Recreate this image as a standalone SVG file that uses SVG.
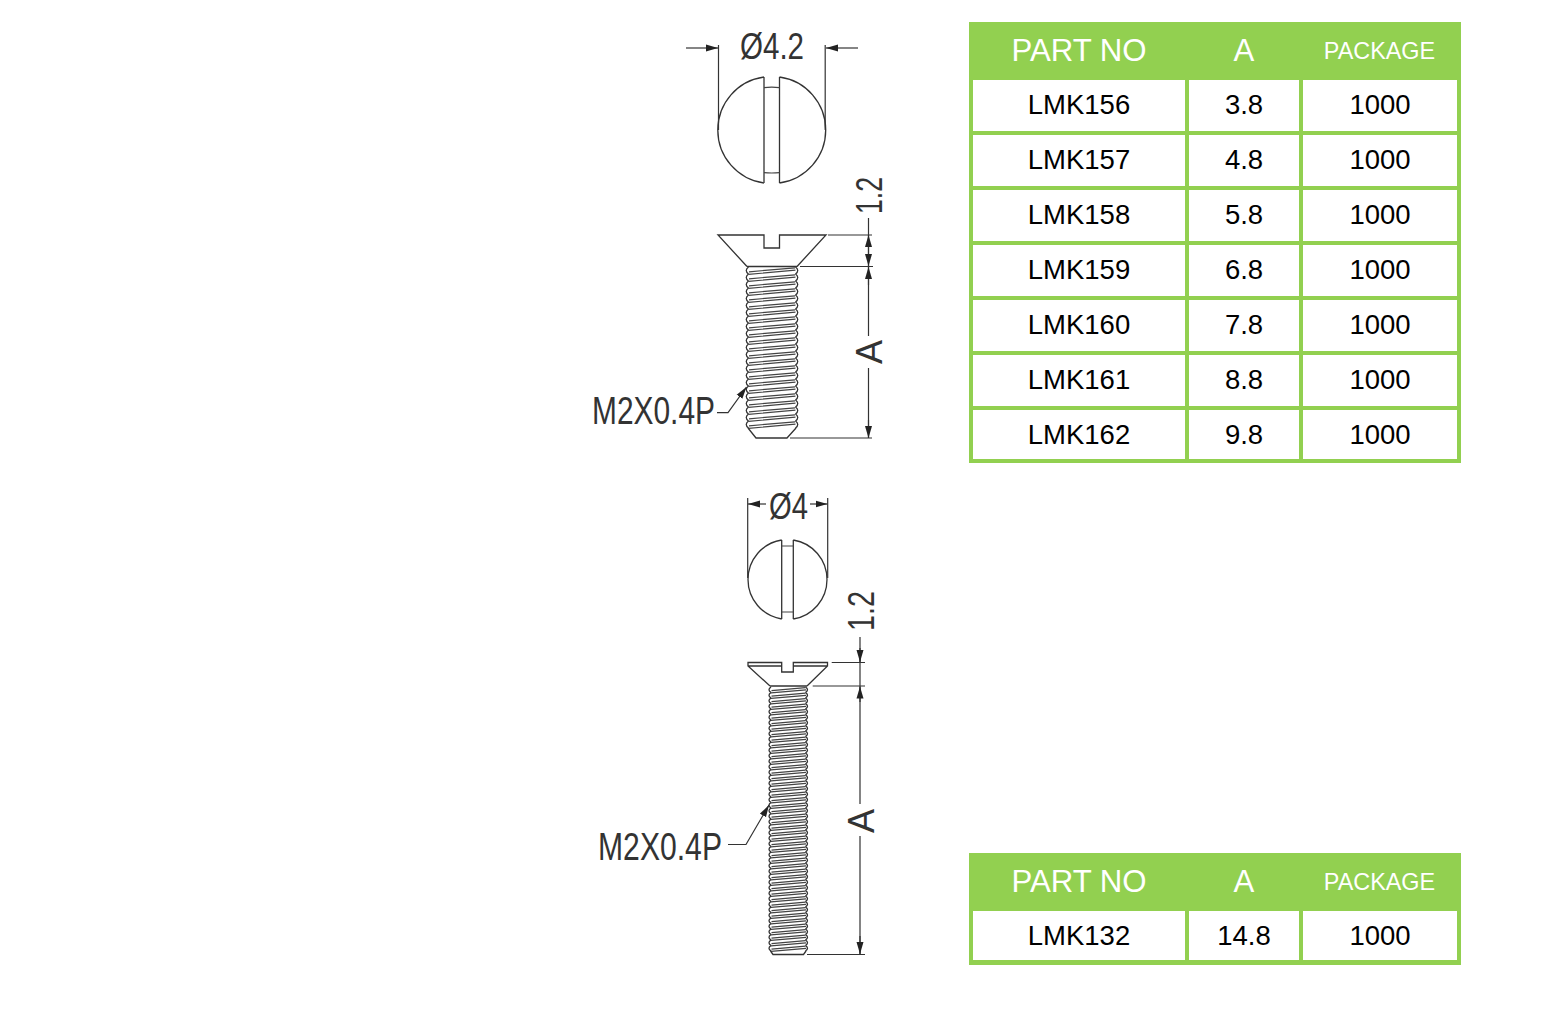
<svg xmlns="http://www.w3.org/2000/svg" width="1565" height="1017" viewBox="0 0 1565 1017">
<style>
.ln{fill:none;stroke:#333;stroke-width:1.3}
.th{fill:none;stroke:#444;stroke-width:1.2}
.dim{fill:none;stroke:#333;stroke-width:1.2}
.ar{marker-end:url(#arrow)}
.lab{font-family:"Liberation Sans",Arial,sans-serif;fill:#333}
.cell{fill:#fff}
.green{fill:#92d050}
.h1{font-family:"Liberation Sans",Arial,sans-serif;font-size:31.2px;fill:#fff;text-anchor:middle}
.h2{font-family:"Liberation Sans",Arial,sans-serif;font-size:23.4px;fill:#fff;text-anchor:middle}
.td{font-family:"Liberation Sans",Arial,sans-serif;font-size:27.5px;fill:#000;text-anchor:middle}
</style>
<defs>
<marker id="arrow" markerUnits="userSpaceOnUse" markerWidth="13" markerHeight="8" refX="12" refY="4" orient="auto"><path d="M0,0.5L12,4L0,7.5z" fill="#222"/></marker>
<g id="t1"><path class="ln" d="M1.5,0Q-3,3.5 1.5,7M48.5,0Q53,3.5 48.5,7"/><path class="th" d="M2,4.8L48,0.8M1.5,7.4L48.5,3.2"/></g>
<g id="t2"><path class="ln" d="M1.5,0Q-2.5,2.75 1.5,5.5M36,0Q40,2.75 36,5.5"/><path class="th" d="M2,3.6L36,0.6M1.5,5.8L36.5,2.8"/></g>
</defs>
<rect width="1565" height="1017" fill="#fff"/>

<g id="screw-top-face">
<path class="ln" d="M764,77A53.5,53.5 0 0 0 764,183M779.5,77A53.5,53.5 0 0 1 779.5,183M764,77V183M779.5,77V183"/>
<path class="th" d="M764,87.6Q771.7,86.8 779.5,87.6M764,172.6Q771.7,173.4 779.5,172.6"/>
</g>
<g id="screw-top-side">
<path class="ln" d="M747,266.5L718,235H764V248H779.5V235H826L797,266.5M747,266.5H797"/>
<use href="#t1" x="747" y="267"/><use href="#t1" x="747" y="274"/><use href="#t1" x="747" y="281"/><use href="#t1" x="747" y="288"/><use href="#t1" x="747" y="295"/><use href="#t1" x="747" y="302"/><use href="#t1" x="747" y="309"/><use href="#t1" x="747" y="316"/><use href="#t1" x="747" y="323"/><use href="#t1" x="747" y="330"/><use href="#t1" x="747" y="337"/><use href="#t1" x="747" y="344"/><use href="#t1" x="747" y="351"/><use href="#t1" x="747" y="358"/><use href="#t1" x="747" y="365"/><use href="#t1" x="747" y="372"/><use href="#t1" x="747" y="379"/><use href="#t1" x="747" y="386"/><use href="#t1" x="747" y="393"/><use href="#t1" x="747" y="400"/><use href="#t1" x="747" y="407"/><use href="#t1" x="747" y="414"/><use href="#t1" x="747" y="421"/>
<path class="ln" d="M748,428L756,438H787L796,428"/>
</g>
<g id="screw-bottom-face">
<path class="ln" d="M781.7,540A40,40 0 0 0 781.7,619M793.3,540A40,40 0 0 1 793.3,619M781.7,540V619M793.3,540V619"/>
<path class="th" d="M781.7,546H793.3M781.7,612H793.3"/>
</g>
<g id="screw-bottom-side">
<path class="ln" d="M770,686L748,666V662.5H781.7V672H793.3V662.5H827.5V666L807,686M770,686H807M748,666H781.7M793.3,666H827.5"/>
<use href="#t2" x="769.5" y="687"/><use href="#t2" x="769.5" y="692.5"/><use href="#t2" x="769.5" y="698"/><use href="#t2" x="769.5" y="703.5"/><use href="#t2" x="769.5" y="709"/><use href="#t2" x="769.5" y="714.5"/><use href="#t2" x="769.5" y="720"/><use href="#t2" x="769.5" y="725.5"/><use href="#t2" x="769.5" y="731"/><use href="#t2" x="769.5" y="736.5"/><use href="#t2" x="769.5" y="742"/><use href="#t2" x="769.5" y="747.5"/><use href="#t2" x="769.5" y="753"/><use href="#t2" x="769.5" y="758.5"/><use href="#t2" x="769.5" y="764"/><use href="#t2" x="769.5" y="769.5"/><use href="#t2" x="769.5" y="775"/><use href="#t2" x="769.5" y="780.5"/><use href="#t2" x="769.5" y="786"/><use href="#t2" x="769.5" y="791.5"/><use href="#t2" x="769.5" y="797"/><use href="#t2" x="769.5" y="802.5"/><use href="#t2" x="769.5" y="808"/><use href="#t2" x="769.5" y="813.5"/><use href="#t2" x="769.5" y="819"/><use href="#t2" x="769.5" y="824.5"/><use href="#t2" x="769.5" y="830"/><use href="#t2" x="769.5" y="835.5"/><use href="#t2" x="769.5" y="841"/><use href="#t2" x="769.5" y="846.5"/><use href="#t2" x="769.5" y="852"/><use href="#t2" x="769.5" y="857.5"/><use href="#t2" x="769.5" y="863"/><use href="#t2" x="769.5" y="868.5"/><use href="#t2" x="769.5" y="874"/><use href="#t2" x="769.5" y="879.5"/><use href="#t2" x="769.5" y="885"/><use href="#t2" x="769.5" y="890.5"/><use href="#t2" x="769.5" y="896"/><use href="#t2" x="769.5" y="901.5"/><use href="#t2" x="769.5" y="907"/><use href="#t2" x="769.5" y="912.5"/><use href="#t2" x="769.5" y="918"/><use href="#t2" x="769.5" y="923.5"/><use href="#t2" x="769.5" y="929"/><use href="#t2" x="769.5" y="934.5"/><use href="#t2" x="769.5" y="940"/><use href="#t2" x="769.5" y="945.5"/>
<path class="ln" d="M770.5,951L773,954.5H803.5L806,951"/>
</g>

<g id="connectors">
<path class="dim" d="M718.5,45V130M825.2,45V130"/>
<line class="dim ar" x1="686" y1="48" x2="718" y2="48"/>
<line class="dim ar" x1="858" y1="48" x2="826" y2="48"/>
<path class="dim" d="M828,235H872M800,266.5H873M790,438H872M868.5,218V336M868.5,368V438"/>
<line class="dim ar" x1="868.5" y1="250" x2="868.5" y2="235"/>
<line class="dim ar" x1="868.5" y1="250" x2="868.5" y2="266"/>
<line class="dim ar" x1="868.5" y1="285" x2="868.5" y2="267"/>
<line class="dim ar" x1="868.5" y1="420" x2="868.5" y2="438"/>
<polyline class="dim ar" points="717,412.7 728,412.7 746.5,387"/>
<path class="dim" d="M747.7,498V578M827.7,498V578"/>
<line class="dim ar" x1="766" y1="504" x2="748" y2="504"/>
<line class="dim ar" x1="810" y1="504" x2="827.5" y2="504"/>
<path class="dim" d="M831.7,662.5H865M812.7,686H865M807,954.5H865M860,637V804M860,836V954"/>
<line class="dim ar" x1="860" y1="648" x2="860" y2="662"/>
<line class="dim ar" x1="860" y1="702" x2="860" y2="686.5"/>
<line class="dim ar" x1="860" y1="936" x2="860" y2="954"/>
<polyline class="dim ar" points="728,844.5 746,844.5 769,805"/>
</g>
<g id="dimension-labels">
<text class="lab" x="740" y="59" font-size="36" textLength="64" lengthAdjust="spacingAndGlyphs">Ø4.2</text>
<text class="lab" transform="translate(882,214) rotate(-90)" font-size="37" textLength="37" lengthAdjust="spacingAndGlyphs">1.2</text>
<text class="lab" transform="translate(882,364) rotate(-90)" font-size="37" textLength="24" lengthAdjust="spacingAndGlyphs">A</text>
<text class="lab" x="592" y="424" font-size="38" textLength="123" lengthAdjust="spacingAndGlyphs">M2X0.4P</text>
<text class="lab" x="769" y="519" font-size="36" textLength="39" lengthAdjust="spacingAndGlyphs">Ø4</text>
<text class="lab" transform="translate(874,631) rotate(-90)" font-size="37" textLength="40" lengthAdjust="spacingAndGlyphs">1.2</text>
<text class="lab" transform="translate(874,833) rotate(-90)" font-size="37" textLength="24" lengthAdjust="spacingAndGlyphs">A</text>
<text class="lab" x="598" y="860" font-size="38" textLength="124" lengthAdjust="spacingAndGlyphs">M2X0.4P</text>
</g>

<g id="table-1">
<rect class="green" x="969" y="22" width="492" height="441"/>
<rect class="cell" x="973" y="80" width="212" height="51"/><rect class="cell" x="1189" y="80" width="110" height="51"/><rect class="cell" x="1303" y="80" width="154" height="51"/>
<rect class="cell" x="973" y="135" width="212" height="51"/><rect class="cell" x="1189" y="135" width="110" height="51"/><rect class="cell" x="1303" y="135" width="154" height="51"/>
<rect class="cell" x="973" y="190" width="212" height="51"/><rect class="cell" x="1189" y="190" width="110" height="51"/><rect class="cell" x="1303" y="190" width="154" height="51"/>
<rect class="cell" x="973" y="245" width="212" height="51"/><rect class="cell" x="1189" y="245" width="110" height="51"/><rect class="cell" x="1303" y="245" width="154" height="51"/>
<rect class="cell" x="973" y="300" width="212" height="51"/><rect class="cell" x="1189" y="300" width="110" height="51"/><rect class="cell" x="1303" y="300" width="154" height="51"/>
<rect class="cell" x="973" y="355" width="212" height="51"/><rect class="cell" x="1189" y="355" width="110" height="51"/><rect class="cell" x="1303" y="355" width="154" height="51"/>
<rect class="cell" x="973" y="410" width="212" height="49"/><rect class="cell" x="1189" y="410" width="110" height="49"/><rect class="cell" x="1303" y="410" width="154" height="49"/>
<text class="h1" x="1079" y="61">PART NO</text><text class="h1" x="1244" y="61">A</text><text class="h2" x="1379.5" y="58.5">PACKAGE</text>
<text class="td" x="1079" y="114">LMK156</text><text class="td" x="1244" y="114">3.8</text><text class="td" x="1380" y="114">1000</text>
<text class="td" x="1079" y="169">LMK157</text><text class="td" x="1244" y="169">4.8</text><text class="td" x="1380" y="169">1000</text>
<text class="td" x="1079" y="224">LMK158</text><text class="td" x="1244" y="224">5.8</text><text class="td" x="1380" y="224">1000</text>
<text class="td" x="1079" y="279">LMK159</text><text class="td" x="1244" y="279">6.8</text><text class="td" x="1380" y="279">1000</text>
<text class="td" x="1079" y="334">LMK160</text><text class="td" x="1244" y="334">7.8</text><text class="td" x="1380" y="334">1000</text>
<text class="td" x="1079" y="389">LMK161</text><text class="td" x="1244" y="389">8.8</text><text class="td" x="1380" y="389">1000</text>
<text class="td" x="1079" y="444">LMK162</text><text class="td" x="1244" y="444">9.8</text><text class="td" x="1380" y="444">1000</text>
</g>
<g id="table-2">
<rect class="green" x="969" y="853" width="492" height="112"/>
<rect class="cell" x="973" y="911" width="212" height="49"/><rect class="cell" x="1189" y="911" width="110" height="49"/><rect class="cell" x="1303" y="911" width="154" height="49"/>
<text class="h1" x="1079" y="892">PART NO</text><text class="h1" x="1244" y="892">A</text><text class="h2" x="1379.5" y="889.5">PACKAGE</text>
<text class="td" x="1079" y="945">LMK132</text><text class="td" x="1244" y="945">14.8</text><text class="td" x="1380" y="945">1000</text>
</g>
</svg>
